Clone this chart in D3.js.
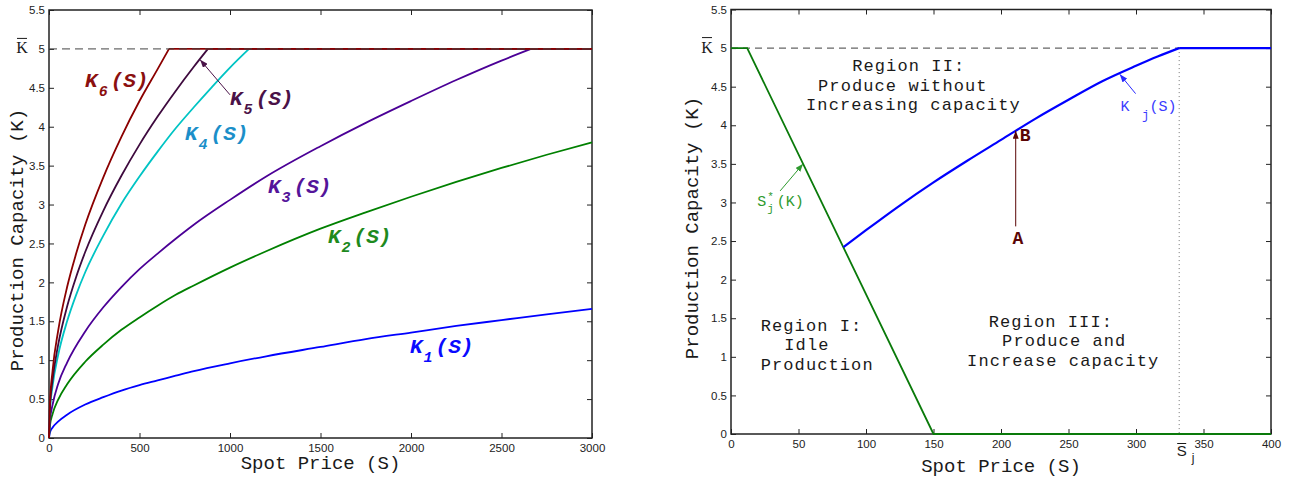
<!DOCTYPE html>
<html>
<head>
<meta charset="utf-8">
<script src="https://cdn.jsdelivr.net/npm/d3@7"></script>
<style>
  body { margin: 0; background: #fff; }
  svg { display: block; }
  .axis-title { font-family: "Liberation Mono", "Courier New", monospace; font-size: 19px; fill: #1a1a1a; }
  .region { font-family: "Liberation Mono", "Courier New", monospace; font-size: 17px; letter-spacing: 1.1px; fill: #1a1a1a; }
  .klabel { font-family: "Liberation Mono", "Courier New", monospace; font-size: 21px; font-weight: bold; font-style: italic; }
  .point-label { font-family: "Liberation Mono", "Courier New", monospace; font-size: 18px; font-weight: bold; fill: #5a0505; }
  .note { font-family: "Liberation Mono", "Courier New", monospace; font-size: 15px; }
  .bar-sym { font-family: "Liberation Serif", "Times New Roman", serif; font-size: 16px; fill: #1a1a1a; }
</style>
</head>
<body>
<svg id="chart" width="1298" height="479"></svg>
<script>
// ---- data ----
const spotTicksLeft = [0, 500, 1000, 1500, 2000, 2500, 3000];
const spotTicksRight = [0, 50, 100, 150, 200, 250, 300, 350, 400];
const capTicks = [0, 0.5, 1, 1.5, 2, 2.5, 3, 3.5, 4, 4.5, 5, 5.5];
const kBar = 5;

// left panel: K_i(S), [S, K]
const k1Points = [[0,0],[5,0.07],[20,0.135],[50,0.21],[100,0.30],[200,0.43],[300,0.525],[400,0.61],[500,0.68],[600,0.74],[700,0.80],[800,0.86],[1000,0.96],[1200,1.05],[1500,1.17],[1750,1.27],[2000,1.355],[2250,1.44],[2500,1.515],[2750,1.59],[3000,1.66]];
const k2Points = [[0,0],[5,0.155],[20,0.31],[50,0.49],[100,0.69],[200,0.98],[300,1.20],[400,1.39],[500,1.55],[600,1.70],[700,1.84],[800,1.96],[1000,2.19],[1200,2.40],[1500,2.69],[1750,2.90],[2000,3.10],[2250,3.29],[2500,3.47],[2750,3.64],[3000,3.80]];
const k3Points = [[0,0],[5,0.22],[20,0.43],[50,0.69],[100,0.97],[200,1.37],[300,1.68],[400,1.94],[500,2.17],[600,2.37],[700,2.56],[800,2.74],[1000,3.06],[1200,3.36],[1500,3.75],[1750,4.05],[2000,4.33],[2250,4.60],[2500,4.85],[2663,5]];
const k4Points = [[0,0],[5,0.34],[20,0.67],[50,1.06],[100,1.50],[150,1.84],[200,2.13],[300,2.60],[400,3.01],[500,3.36],[600,3.68],[700,3.98],[800,4.25],[900,4.51],[1000,4.76],[1105,5]];
const k5Points = [[0,0],[5,0.38],[20,0.75],[50,1.19],[100,1.69],[150,2.07],[200,2.39],[300,2.92],[400,3.37],[500,3.77],[600,4.13],[700,4.46],[800,4.77],[878,5]];
const k6Points = [[0,0],[5,0.43],[20,0.87],[50,1.37],[100,1.94],[150,2.37],[200,2.74],[300,3.35],[400,3.87],[500,4.33],[600,4.74],[663,5]];

const curveSubs = ["1", "2", "3", "4", "5", "6"];
const curveColors = ["#0000ff", "#008000", "#4b0096", "#00c4c4", "#3e0a3e", "#8b0000"];
const labelColors = ["#0a0aff", "#1e8a1e", "#54159a", "#1b8fc9", "#4a1248", "#8b1010"];
// label anchor [S, K] per curve
const labelAt = [[1994,1.09],[1541,2.51],[1210,3.15],[751,3.83],[1000,4.28],[199,4.51]];
const k5Arrow = [[1000,4.41],[835,4.86]];

// right panel
const sStarPoints = [[0,5],[12,5],[150,0],[400,0]];
const kjPoints = [[83.3,2.42],[100,2.64],[125,2.96],[150,3.26],[175,3.54],[200,3.81],[225,4.08],[250,4.33],[275,4.57],[300,4.77],[316,4.89],[332,5]];
const sBarJ = 332;
const abArrow = [[210.9,2.69],[210.9,3.93]];
const sStarArrow = [[36.4,3.15],[53.4,3.5]];
const kjArrow = [[299.7,4.41],[288,4.66]];
const regionText = [
  ["Region II:", 89.8, 4.70], ["Produce without", 64.5, 4.45], ["Increasing capacity", 55.6, 4.20],
  ["Region I:", 22.0, 1.335], ["Idle", 39.5, 1.082], ["Production", 22.0, 0.829],
  ["Region III:", 190.9, 1.386], ["Produce and", 200.8, 1.134], ["Increase capacity", 174.9, 0.881]
];

const svg = d3.select("#chart");

const xL = d3.scaleLinear().domain([0, 3000]).range([49, 592]);
const yL = d3.scaleLinear().domain([0, 5.5]).range([438, 10]);
const xR = d3.scaleLinear().domain([0, 400]).range([731, 1271]);
const yR = d3.scaleLinear().domain([0, 5.5]).range([434, 9.5]);

const defs = svg.append("defs");
function arrowMarker(id, color) {
  defs.append("marker")
    .attr("id", id)
    .attr("viewBox", "0 0 8 6")
    .attr("refX", 8).attr("refY", 3)
    .attr("markerWidth", 8).attr("markerHeight", 6)
    .attr("markerUnits", "userSpaceOnUse")
    .attr("orient", "auto")
    .append("path").attr("d", "M0,0L8,3L0,6Z").attr("fill", color);
}
arrowMarker("arr-k5", "#4a1248");
arrowMarker("arr-ab", "#5a0505");
arrowMarker("arr-s", "#2e9a2e");
arrowMarker("arr-kj", "#2828ff");

function drawFrame(x, y, xTicks) {
  const g = svg.append("g");
  const fmt = d => String(d);
  const y0 = y.range()[0], y1 = y.range()[1], x0 = x.range()[0], x1 = x.range()[1];

  g.append("g").attr("transform", `translate(0,${y0})`)
    .call(d3.axisBottom(x).tickValues(xTicks).tickFormat(fmt).tickSizeInner(-5).tickSizeOuter(0).tickPadding(6));
  g.append("g").attr("transform", `translate(0,${y1})`)
    .call(d3.axisTop(x).tickValues(xTicks).tickFormat("").tickSizeInner(-5).tickSizeOuter(0));
  g.append("g").attr("transform", `translate(${x0},0)`)
    .call(d3.axisLeft(y).tickValues(capTicks).tickFormat(fmt).tickSizeInner(-5).tickSizeOuter(0).tickPadding(4));
  g.append("g").attr("transform", `translate(${x1},0)`)
    .call(d3.axisRight(y).tickValues(capTicks).tickFormat("").tickSizeInner(-5).tickSizeOuter(0));

  g.selectAll(".domain").remove();
  g.selectAll(".tick line").attr("stroke", "#222");
  g.selectAll("g").attr("font-family", "'Liberation Sans', Arial, sans-serif").attr("font-size", 11.5);
  g.selectAll(".tick text").attr("fill", "#222");

  g.append("rect")
    .attr("x", x0).attr("y", y1)
    .attr("width", x1 - x0).attr("height", y0 - y1)
    .attr("fill", "none").attr("stroke", "#222").attr("stroke-width", 1.5);
}

drawFrame(xL, yL, spotTicksLeft);
drawFrame(xR, yR, spotTicksRight);

// axis titles
function axisTitles(x, y, xTitleY, yTitleX, yTitleY) {
  svg.append("text").attr("class", "axis-title")
    .attr("x", (x.range()[0] + x.range()[1]) / 2).attr("y", xTitleY)
    .attr("text-anchor", "middle").text("Spot Price (S)");
  svg.append("text").attr("class", "axis-title")
    .attr("transform", `translate(${yTitleX},${yTitleY}) rotate(-90)`)
    .attr("text-anchor", "middle").text("Production Capacity (K)");
}
axisTitles(xL, yL, 469, 23, 240);
axisTitles(xR, yR, 472, 698, 228);

// K-bar symbol beside the 5 tick
function kBarLabel(cx, y) {
  const by = y(kBar) + 4.5;
  svg.append("text").attr("class", "bar-sym")
    .attr("x", cx).attr("y", by).attr("text-anchor", "middle").text("K");
  svg.append("line")
    .attr("x1", cx - 5).attr("x2", cx + 5)
    .attr("y1", by - 15).attr("y2", by - 15)
    .attr("stroke", "#1a1a1a").attr("stroke-width", 1);
}
kBarLabel(xL.range()[0] - 27, yL);
kBarLabel(xR.range()[0] - 24, yR);

// ---- left panel ----
const lineL = d3.line().x(d => xL(d[0])).y(d => yL(d[1])).curve(d3.curveMonotoneX);
const flatL = d3.line().x(d => xL(d[0])).y(d => yL(d[1]));
const leftCurves = [k1Points, k2Points, k3Points, k4Points, k5Points, k6Points];

leftCurves.forEach((pts, i) => {
  svg.append("path").attr("d", lineL(pts))
    .attr("fill", "none").attr("stroke", curveColors[i]).attr("stroke-width", 1.8);
  const last = pts[pts.length - 1];
  if (last[0] < 3000) {
    svg.append("path").attr("d", flatL([last, [3000, last[1]]]))
      .attr("fill", "none").attr("stroke", curveColors[i]).attr("stroke-width", 1.8);
  }
});

svg.append("line")
  .attr("x1", xL(0)).attr("x2", xL(3000))
  .attr("y1", yL(kBar)).attr("y2", yL(kBar))
  .attr("stroke", "#444").attr("stroke-width", 1).attr("stroke-dasharray", "8,5");

// K_i(S) labels
labelAt.forEach((p, i) => {
  const t = svg.append("text").attr("class", "klabel")
    .attr("x", xL(p[0])).attr("y", yL(p[1])).attr("fill", labelColors[i]);
  t.append("tspan").text("K");
  t.append("tspan").attr("font-size", 15).attr("dy", 9).attr("dx", 1).text(curveSubs[i]);
  t.append("tspan").attr("dy", -9).attr("dx", 3).text("(S)");
});

svg.append("line")
  .attr("x1", xL(k5Arrow[0][0])).attr("y1", yL(k5Arrow[0][1]))
  .attr("x2", xL(k5Arrow[1][0])).attr("y2", yL(k5Arrow[1][1]))
  .attr("stroke", "#4a1248").attr("stroke-width", 1).attr("marker-end", "url(#arr-k5)");

// ---- right panel ----
svg.append("line")
  .attr("x1", xR(0)).attr("x2", xR(400))
  .attr("y1", yR(kBar)).attr("y2", yR(kBar))
  .attr("stroke", "#666").attr("stroke-width", 1.2).attr("stroke-dasharray", "7,5");

svg.append("line")
  .attr("x1", xR(sBarJ)).attr("x2", xR(sBarJ))
  .attr("y1", yR(kBar)).attr("y2", yR(0))
  .attr("stroke", "#777").attr("stroke-width", 1).attr("stroke-dasharray", "1,3");

const lineR = d3.line().x(d => xR(d[0])).y(d => yR(d[1]));
svg.append("path").attr("d", lineR(sStarPoints))
  .attr("fill", "none").attr("stroke", "#0a7a0a").attr("stroke-width", 1.8);
svg.append("path").attr("d", d3.line().x(d => xR(d[0])).y(d => yR(d[1])).curve(d3.curveMonotoneX)(kjPoints))
  .attr("fill", "none").attr("stroke", "#0000ff").attr("stroke-width", 2.2);
svg.append("path").attr("d", lineR([[sBarJ, kBar], [400, kBar]]))
  .attr("fill", "none").attr("stroke", "#0000ff").attr("stroke-width", 2.2);

function arrow(pts, id, color) {
  svg.append("line")
    .attr("x1", xR(pts[0][0])).attr("y1", yR(pts[0][1]))
    .attr("x2", xR(pts[1][0])).attr("y2", yR(pts[1][1]))
    .attr("stroke", color).attr("stroke-width", 1).attr("marker-end", `url(#${id})`);
}
arrow(abArrow, "arr-ab", "#5a0505");
arrow(sStarArrow, "arr-s", "#2e9a2e");
arrow(kjArrow, "arr-kj", "#2828ff");

regionText.forEach(r => {
  svg.append("text").attr("class", "region")
    .attr("x", xR(r[1])).attr("y", yR(r[2]))
    .attr("xml:space", "preserve").text(r[0]);
});

// A and B
svg.append("text").attr("class", "point-label").attr("text-anchor", "middle")
  .attr("x", xR(212.5)).attr("y", yR(2.46)).text("A");
svg.append("text").attr("class", "point-label")
  .attr("x", xR(213.9)).attr("y", yR(3.80)).text("B");

// S*_j(K)
{
  const ax = xR(19.5), ay = yR(2.95);
  const g = svg.append("g").attr("class", "note").attr("fill", "#2e9a2e");
  g.append("text").attr("x", ax).attr("y", ay).text("S");
  g.append("text").attr("x", ax + 10).attr("y", ay - 6).attr("font-size", 11).text("*");
  g.append("text").attr("x", ax + 10).attr("y", ay + 6).attr("font-size", 11).text("j");
  g.append("text").attr("x", ax + 19.5).attr("y", ay).text("(K)");
}

// K_j(S)
{
  const ax = xR(288.6), ay = yR(4.18);
  const g = svg.append("g").attr("class", "note").attr("fill", "#3a3aff");
  g.append("text").attr("x", ax).attr("y", ay).text("K");
  g.append("text").attr("x", ax + 21.5).attr("y", ay + 8).attr("font-size", 12).text("j");
  g.append("text").attr("x", ax + 29).attr("y", ay).text("(S)");
}

// S-bar_j under the axis
{
  const cx = xR(sBarJ) + 2.5;
  svg.append("text").attr("x", cx).attr("y", 456).attr("text-anchor", "middle")
    .attr("font-family", "'Liberation Sans', Arial, sans-serif").attr("font-size", 15)
    .attr("fill", "#1a1a1a").text("S");
  svg.append("line").attr("x1", cx - 4.5).attr("x2", cx + 4.5).attr("y1", 443.5).attr("y2", 443.5)
    .attr("stroke", "#1a1a1a").attr("stroke-width", 1);
  svg.append("text").attr("x", cx + 10).attr("y", 462)
    .attr("font-family", "'Liberation Sans', Arial, sans-serif").attr("font-size", 12)
    .attr("fill", "#1a1a1a").text("j");
}
</script>
</body>
</html>
